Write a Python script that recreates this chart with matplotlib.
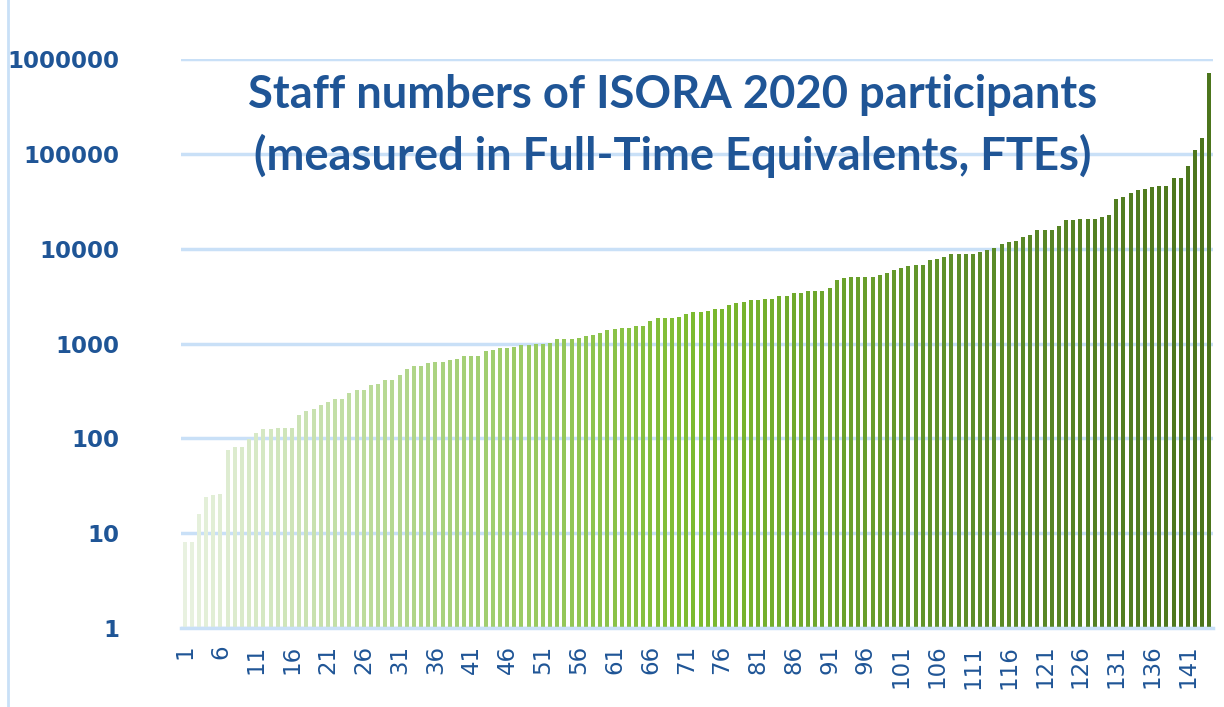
import numpy as np
import matplotlib
matplotlib.use("Agg")
import matplotlib.pyplot as plt
from matplotlib.colors import LinearSegmentedColormap
from matplotlib.lines import Line2D

# FTE per participant, sorted ascending
fte = [
    8, 8, 16, 24, 25, 26, 76, 81, 81, 98,
    113, 125, 125, 130, 130, 130, 176, 194, 202, 225,
    241, 260, 260, 302, 325, 325, 363, 375, 415, 415,
    464, 538, 575, 575, 620, 645, 645, 665, 695, 745,
    740, 740, 830, 865, 895, 895, 920, 960, 960, 985,
    985, 1025, 1110, 1110, 1110, 1145, 1200, 1240, 1290, 1380,
    1440, 1480, 1480, 1540, 1540, 1720, 1850, 1850, 1850, 1910,
    2050, 2140, 2140, 2200, 2300, 2300, 2560, 2660, 2750, 2870,
    2870, 2950, 2950, 3170, 3170, 3400, 3400, 3550, 3550, 3550,
    3900, 4700, 4900, 5070, 5070, 5070, 5070, 5250, 5630, 6040,
    6250, 6530, 6800, 6800, 7570, 7860, 8140, 8740, 8740, 8740,
    8740, 9370, 9750, 10100, 11200, 11700, 12200, 13500, 13960, 15700,
    15700, 15700, 17500, 20200, 20200, 20900, 20900, 20900, 21600, 23000,
    33500, 35600, 38600, 41600, 43300, 45000, 46300, 46300, 56000, 56000,
    74000, 111000, 148000, 725000,
]
participants = list(range(1, len(fte) + 1))
xtick_labels = participants[::5]
ytick_values = [1, 10, 100, 1000, 10000, 100000, 1000000]

title = ("Staff numbers of ISORA 2020 participants\n"
         "(measured in Full-Time Equivalents, FTEs)")

blue = "#1f5596"
grid_blue = "#c9e0f7"

fig = plt.figure(figsize=(12.24, 7.07), dpi=100)
ax = fig.add_axes([181 / 1224, 1 - 628 / 707, (1213 - 181) / 1224, (628 - 59.3) / 707])

cmap = LinearSegmentedColormap.from_list(
    "greens", ["#e8f1e0", "#a9d27e", "#7cbb2e", "#5e8f2a", "#4c751c"])
colors = [cmap(i / (len(fte) - 1)) for i in range(len(fte))]

ax.bar(participants, fte, width=0.58, color=colors, zorder=2)

ax.set_yscale("log")
ax.set_ylim(1, 1000000)
ax.set_xlim(0.5, len(fte) + 0.5)

ax.set_yticks(ytick_values)
ax.set_yticklabels([str(v) for v in ytick_values])
ax.yaxis.set_minor_locator(matplotlib.ticker.NullLocator())
ax.set_xticks(xtick_labels)
ax.set_xticklabels([str(v) for v in xtick_labels], rotation=90)

for lab in ax.get_yticklabels():
    lab.set_fontweight("bold")
    lab.set_fontsize(16.5)
    lab.set_color(blue)
    lab.set_family("DejaVu Sans")
for lab in ax.get_xticklabels():
    lab.set_fontsize(16.5)
    lab.set_color(blue)
    lab.set_family("DejaVu Sans")

ax.tick_params(axis="y", length=0, pad=44.5)
ax.tick_params(axis="x", length=0, pad=12)

ax.grid(True, axis="y", color=grid_blue, linewidth=2.5, zorder=0)
ax.set_axisbelow(True)
for side in ["top", "right", "left"]:
    ax.spines[side].set_visible(False)
ax.spines["bottom"].set_color(grid_blue)
ax.spines["bottom"].set_linewidth(2.5)

fig.text(673 / 1224, 1 - 126 / 707, title, ha="center", va="center",
         fontsize=32.7, fontweight="bold", color=blue, family="Lato",
         linespacing=1.5)

# thin frame line at the left edge
fig.add_artist(Line2D([8 / 1224, 8 / 1224], [0, 1], color=grid_blue,
                      linewidth=2, transform=fig.transFigure))

fig.savefig("out.png", dpi=100)
